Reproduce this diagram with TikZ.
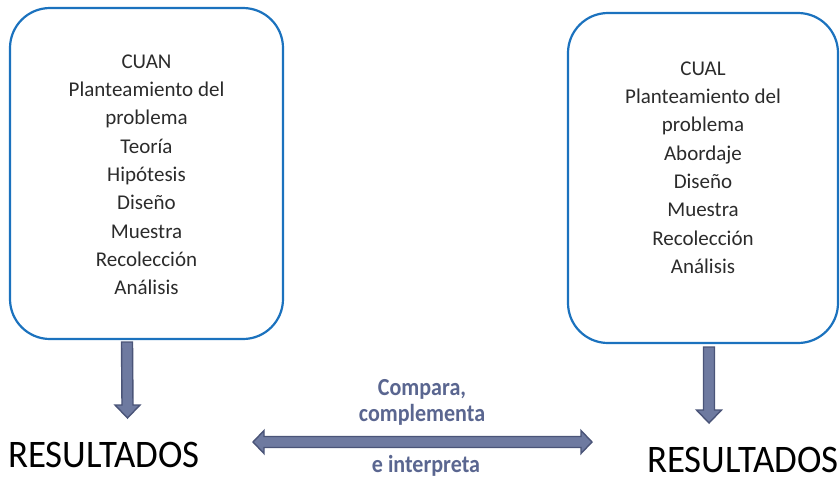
\documentclass[tikz,border=0pt]{standalone}
\usepackage{fontspec}
\usetikzlibrary{calc}
\setmainfont{Carlito}
\newfontfamily\boxfont{Carlito}
\newfontfamily\resfont[FakeStretch=0.945]{Carlito}
\newfontfamily\midfont[FakeStretch=0.9]{Carlito}
\definecolor{boxblue}{HTML}{1B72BE}
\definecolor{boxtext}{HTML}{2B2B2B}
\definecolor{arrfill}{HTML}{6E7AA0}
\definecolor{arrdraw}{HTML}{4A5478}
\definecolor{midtext}{HTML}{5A6690}
\tikzset{
  method/.style={draw=boxblue, line width=2.2pt, rounded corners=40pt},
  methodtext/.style={text=boxtext, align=center, font=\boxfont\fontsize{21}{28.3}\selectfont, inner sep=0pt, anchor=north},
  result/.style={font=\resfont\fontsize{39}{40}\selectfont, text=black, inner sep=0pt, anchor=base west},
  fatarrow/.style={fill=arrfill, draw=arrdraw, line width=1.4pt, line join=miter},
  midlabel/.style={font=\midfont\bfseries\fontsize{24.5}{26}\selectfont, text=midtext, inner sep=0pt, align=center}
}
\begin{document}
\begin{tikzpicture}[x=1pt,y=-1pt]
\useasboundingbox (0,0) rectangle (840,483);
% boxes
\draw[method] (10,8) rectangle (283,339);
\node[methodtext] (cuan) at (146.5,54.5)
 {CUAN\\Planteamiento del\\problema\\Teoría\\Hipótesis\\Diseño\\Muestra\\Recolección\\Análisis};
\coordinate (cuanbot) at (127,342);
\draw[method] (568,13) rectangle (838,343);
\node[methodtext] (cual) at (703,61.5)
 {CUAL\\Planteamiento del\\problema\\Abordaje\\Diseño\\Muestra\\Recolección\\Análisis};
\coordinate (cualbot) at (709,347);
% results
\node[result] (resL) at (8,467) {RESULTADOS};
\node[result] (resR) at (647,472) {RESULTADOS};
% down arrows
\coordinate (tipL) at (127.5,418);
\draw[fatarrow] ($(cuanbot)+(-5.5,0)$) -- ($(tipL)+(-5.5,-13)$) -- ($(tipL)+(-12.5,-13)$)
  -- (tipL) -- ($(tipL)+(12.5,-13)$) -- ($(tipL)+(5.5,-13)$) -- ($(cuanbot)+(5.5,0)$) -- cycle;
\coordinate (tipR) at (709,423);
\draw[fatarrow] ($(cualbot)+(-5.5,0)$) -- ($(tipR)+(-5.5,-13)$) -- ($(tipR)+(-12.5,-13)$)
  -- (tipR) -- ($(tipR)+(12.5,-13)$) -- ($(tipR)+(5.5,-13)$) -- ($(cualbot)+(5.5,0)$) -- cycle;
% double arrow
\coordinate (dl) at (253,442);
\coordinate (dr) at (592,442);
\draw[fatarrow] (dl) -- ($(dl)+(11,-11.5)$) -- ($(dl)+(11,-5.5)$) -- ($(dr)+(-11,-5.5)$)
  -- ($(dr)+(-11,-11.5)$) -- (dr) -- ($(dr)+(-11,11.5)$) -- ($(dr)+(-11,5.5)$)
  -- ($(dl)+(11,5.5)$) -- ($(dl)+(11,11.5)$) -- cycle;
% labels
\node[midlabel, anchor=north] (lab1) at (422,379) {Compara,\\complementa};
\node[midlabel, anchor=base] (lab3) at (426,472) {e interpreta};
\end{tikzpicture}
\end{document}
